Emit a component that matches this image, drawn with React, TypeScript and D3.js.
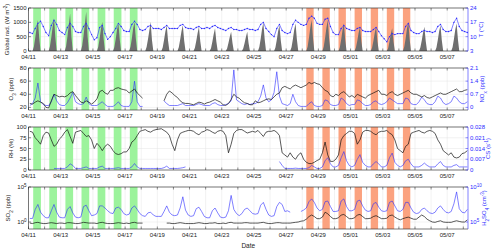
import * as d3 from "d3";

// sampling: every 4 h, starting 04/11 02:00 (UTC)
const start = new Date(Date.UTC(2019, 3, 11));
const end = new Date(Date.UTC(2019, 4, 8, 7));
const sampleHours = [2, 6, 10, 14, 18, 22];
const radHours = [6, 8, 10, 12, 14, 16, 18];

const greenDays = ["04/11", "04/12", "04/13", "04/14", "04/15", "04/16", "04/17"];
const orangeDays = ["04/28", "04/29", "04/30", "05/01", "05/02", "05/03", "05/04"];
const greenHours = [7, 18.5];
const orangeHours = [6, 17];

const N = null;

// global radiation (W m-2), one row per day, at radHours
const radiation = [
  0, 150, 450, 800, 1080, 450, 0,
  0, 170, 480, 850, 1140, 480, 0,
  0, 160, 500, 900, 1310, 500, 0,
  0, 180, 520, 950, 1370, 520, 0,
  0, 150, 430, 780, 1020, 420, 0,
  0, 140, 420, 760, 960, 400, 0,
  0, 150, 440, 790, 1020, 430, 0,
  0, 140, 400, 700, 1020, 380, 0,
  0, 120, 380, 680, 900, 360, 0,
  0, 130, 390, 690, 900, 370, 0,
  0, 110, 350, 620, 850, 340, 0,
  0, 100, 320, 580, 790, 320, 0,
  0, 90, 280, 500, 670, 280, 0,
  0, 90, 270, 490, 670, 270, 0,
  0, 140, 420, 760, 990, 410, 0,
  0, 120, 380, 690, 900, 370, 0,
  0, 130, 410, 740, 960, 400, 0,
  0, 150, 460, 820, 1080, 450, 0,
  0, 150, 450, 810, 1080, 440, 0,
  0, 130, 400, 730, 960, 390, 0,
  0, 120, 360, 640, 850, 350, 0,
  0, 110, 350, 630, 850, 340, 0,
  0, 100, 330, 600, 790, 320, 0,
  0, 150, 430, 780, 1020, 420, 0,
  0, 120, 360, 640, 850, 350, 0,
  0, 120, 380, 690, 900, 370, 0,
  0, 130, 410, 740, 960, 400, 0,
];

// temperature (°C)
const temp = [
  12, 11.5, 14, 16.5, 17.5, 15,
  12, 10.5, 15.5, 18, 16, 13,
  12, 11, 14.5, 16.5, 15, 12.5,
  12, 12, 15, 16.5, 14, 11,
  8.5, 9.5, 14.5, 15.5, 11.5, 8.7,
  10, 12, 14, 16.5, 15, 13,
  12.5, 12.5, 16, 17.5, 16, 13.5,
  13, 13.5, 15, 15.5, 14, 14,
  14, 13.5, 14.5, 15.5, 14, 14,
  14, 14, 15.5, 16, 14.5, 14,
  14, 13.5, 14.5, 15, 14, 14,
  14.5, 14, 15, 15.5, 14.5, 14,
  13.5, 13, 14, 14.5, 13.5, 13.5,
  13, 13, 13.5, 14, 13.5, 13.5,
  13, 13.5, 16, 17, 14, 12.5,
  11, 10, 14, 16, 13, 12,
  11.5, 12, 16, 18, 17, 16,
  15.5, 16, 19, 20, 19, 16.5,
  16, 16, 18.5, 19, 15, 12,
  11, 11, 14, 15.5, 14, 13.5,
  13, 13, 14, 14.5, 13, 12.5,
  12.5, 12.5, 13.5, 14.5, 12.5, 10.5,
  9, 7.5, 10, 11.5, 11, 11.5,
  11.5, 11.5, 15, 16.5, 13, 12,
  11.5, 11.5, 12.5, 13, 12.5, 12.5,
  12, 12.5, 15, 16, 13.5, 12.5,
  12.5, 13, 17, 19, 15, 13,
  12.5, 12,
];

// O3 (ppb)
const o3 = [
  26, 25, 28, 30, 28, 26,
  20, 19, 30, 40, 38, 36,
  37, 36, 38, 42, 44, 38,
  33, 28, 27, 30, 28, 25,
  28, 33, 44, 46, 42, 40,
  46, 46, 49, 50, 48, 47,
  46, 42, 45, 48, 42, 38,
  34, N, N, N, N, N,
  N, N, 30, 40, 45, 42,
  38, 35, 30, 27, 26, 26,
  25, 24, 26, 28, 27, 25,
  27, 28, 30, 32, 30, 28,
  24, 23, 26, 32, 40, 36,
  34, 30, 27, 26, 24, 24,
  30, 27, 28, 30, 32, 33,
  32, 36, 40, 42, 50, 52,
  50, 48, 52, 54, 52, 50,
  52, 54, 58, 56, 58, 56,
  55, 50, 46, 44, 38, 36,
  40, 38, 42, 44, 40, 36,
  38, 35, 40, 38, 36, 34,
  38, 40, 42, 44, 46, 40,
  40, 38, 42, 44, 40, 38,
  40, 42, 44, 46, 42, 40,
  40, 38, 36, 38, 35, 34,
  36, 38, 40, 42, 40, 40,
  42, 44, 46, 48, 44, 44,
  46, 47,
];

// NOx (ppb)
const nox = [
  0.1, 0.2, 0.5, 1.3, 0.3, 0.15,
  0.1, 0.1, 0.3, 0.7, 0.35, 0.15,
  0.1, 0.1, 0.25, 0.5, 0.8, 0.3,
  0.2, 0.15, 0.2, 0.55, 0.2, 0.1,
  0.1, 0.1, 0.2, 0.3, 0.15, 0.05,
  0.05, 0.05, 0.15, 0.3, 0.1, 0.05,
  0.05, 0.05, 0.3, 1.4, 0.3, 0.05,
  0.05, N, N, N, N, N,
  N, N, 0.35, 0.2, 0.1, 0.1,
  0.1, 0.1, 0.15, 0.2, 0.1, 0.1,
  0.1, 0.1, 0.15, 0.2, 0.15, 0.1,
  0.1, 0.1, 0.2, 0.25, 0.15, 0.1,
  0.1, 0.15, 0.2, 0.35, 2.0, 0.4,
  0.3, 0.2, 0.15, 0.2, 0.15, 0.2,
  0.2, 0.3, 0.6, 1.2, 0.5, 0.3,
  0.4, 0.8, 1.9, 0.6, 0.2, 0.15,
  0.1, 0.2, 0.7, 0.3, 0.1, 0.05,
  0.05, 0.05, 0.2, 0.3, 0.1, 0.05,
  0.05, 0.1, 0.4, 0.35, 0.15, 0.1,
  0.1, 0.15, 0.5, 0.4, 0.2, 0.1,
  0.15, 0.15, 0.4, 0.35, 0.2, 0.1,
  0.1, 0.15, 0.3, 0.35, 0.2, 0.15,
  0.2, 0.3, 0.5, 0.4, 0.3, 0.2,
  0.2, 0.2, 0.5, 0.45, 0.2, 0.15,
  0.15, 0.3, 0.55, 0.4, 0.2, 0.15,
  0.15, 0.3, 0.6, 0.5, 0.25, 0.15,
  0.2, 0.3, 0.6, 0.5, 0.3, 0.2,
  0.2, 0.3,
];

// RH (%)
const rh = [
  90, 88, 75, 68, 60, 80,
  88, 86, 70, 55, 60, 72,
  78, 88, 94, 78, 62, 88,
  90, 92, 85, 78, 80, 70,
  50, 62, 55, 45, 55, 60,
  55, 45, 38, 36, 38, 42,
  42, 50, 65, 70, 80, 90,
  92, 94, 90, 88, 92, 94,
  95, 96, 92, 88, 80, 60,
  45, 70, 85, 88, 90, 92,
  92, 90, 85, 82, 88, 90,
  94, 92, 88, 85, 90, 92,
  90, 80, 40, 60, 85, 92,
  94, 94, 90, 86, 88, 90,
  88, 92, 85, 78, 88, 90,
  90, 92, 88, 80, 40, 35,
  30, 40, 30, 25, 35, 40,
  25, 18, 15, 15, 18, 22,
  25, 40, 65, 35, 20, 20,
  25, 35, 70, 80, 85, 90,
  90, 85, 60, 70, 88, 92,
  92, 90, 85, 82, 88, 90,
  90, 92, 86, 82, 70, 50,
  45, 40, 55, 60, 85, 88,
  90, 92, 88, 86, 90, 92,
  90, 85, 70, 60, 45, 40,
  35, 40, 30, 28, 30, 38,
  40, 45,
];

// condensation sink (s-1)
const cs = [
  N, N, N, N, N, N,
  N, N, N, 0.001, 0.001, 0.001,
  0.001, 0.001, 0.002, 0.004, 0.003, 0.001,
  0.001, 0.001, 0.0015, 0.002, 0.001, 0.001,
  0.001, 0.001, 0.002, 0.0025, 0.001, 0.001,
  0.001, 0.001, 0.0012, 0.0015, 0.001, 0.001,
  0.001, 0.001, 0.002, 0.0042, 0.002, 0.001,
  0.001, 0.001, 0.001, 0.001, 0.001, 0.001,
  0.001, 0.001, 0.0015, 0.0025, 0.001, 0.001,
  0.001, 0.001, 0.0012, 0.0015, 0.002, N,
  N, N, N, N, N, N,
  N, N, N, N, N, N,
  N, N, N, N, N, N,
  N, N, N, N, N, N,
  N, N, N, N, N, N,
  N, N, N, 0.0055, 0.003, 0.001,
  0.001, 0.001, 0.001, 0.0012, 0.001, 0.001,
  0.001, 0.001, 0.0015, 0.003, 0.002, 0.001,
  0.001, 0.002, 0.006, 0.008, 0.004, 0.002,
  0.002, 0.003, 0.008, 0.012, 0.006, 0.003,
  0.002, 0.003, 0.007, 0.01, 0.005, 0.003,
  0.002, 0.002, 0.004, 0.0055, 0.004, 0.002,
  0.002, 0.003, 0.008, 0.011, 0.005, 0.003,
  0.002, 0.003, 0.006, 0.007, 0.004, 0.002,
  0.002, 0.002, 0.003, 0.0045, 0.003, 0.002,
  0.002, 0.002, 0.004, 0.0055, 0.003, 0.002,
  0.002, 0.002, 0.003, 0.0035, 0.002, 0.002,
  0.002, 0.002,
];

// SO2 (ppb)
const so2 = [
  0.7, 0.6, 0.8, 0.9, 0.7, 0.6,
  0.6, 0.7, 0.8, 0.7, 0.6, 0.7,
  0.7, 0.6, 0.8, 0.8, 0.7, 0.6,
  0.6, 0.7, 0.9, 0.8, 0.7, 0.7,
  0.7, 0.6, 0.8, 0.9, 0.7, 0.6,
  0.6, 0.6, 0.7, 0.8, 0.7, 0.6,
  0.7, 0.6, 0.8, 0.9, 0.7, 0.7,
  0.7, N, N, N, N, N,
  N, N, N, 0.7, 0.7, 0.6,
  0.6, 0.7, 0.8, 0.7, 0.6, 0.6,
  0.6, 0.6, 0.7, 0.8, 0.7, 0.6,
  0.6, 0.7, 0.7, 0.8, 0.6, 0.6,
  0.7, 0.6, 0.8, 0.9, 0.7, 0.7,
  0.7, 0.7, 0.8, 0.8, 0.7, 0.7,
  0.7, 0.7, 0.8, 0.9, 0.7, 0.6,
  0.6, 0.7, 0.8, 0.8, 0.7, 0.7,
  0.7, 0.7, 0.8, 0.9, 1.0, 1.3,
  1.5, 2.5, 6, 10, 6, 3,
  3, 5, 25, 15, 6, 3,
  3, 4, 10, 12, 6, 3,
  3, 4, 10, 12, 6, 3,
  3, 3.5, 6, 8, 5, 3,
  3, 3.5, 8, 10, 5, 3,
  2, 3, 4, 5, 3.5, 2.5,
  2.5, 5, 10, 6, 2.5, 1.5,
  1, 0.9, 1.2, 1.5, 1, 0.9,
  0.9, 0.9, 1.2, 1.5, 1.2, 1,
  1, 2,
];

// H2SO4 (cm-3)
const h2so4 = [
  3.2e5, 3.2e5, 6.3e6, 3.2e7, 2.5e6, 8e5,
  4e5, 4e5, 4e6, 3.2e7, 2.5e6, 5e5,
  4e5, 4e5, 6.3e6, 1.6e7, 2e6, 5e5,
  4e5, 5e5, 1.6e7, 2.5e7, 4e6, 8e5,
  1e6, 1.6e6, 2e7, 2e7, 1e7, 4e6,
  2e6, 1.6e6, 1e7, 1.3e7, 6.3e6, 1.6e6,
  1e6, 1.3e6, 1e7, 2e7, 6.3e6, 1.6e6,
  8e5, 6.3e5, 2e6, 2.5e6, 1e6, 6.3e5,
  6.3e5, 6.3e5, 3.2e6, 2e7, 2.5e6, 1e6,
  8e5, 1e6, 1e7, 4e8, 5e6, 1e6,
  6.3e5, 8e5, 8e6, 1.3e7, 3.2e6, 6.3e5,
  4e5, 4e5, 4e6, 1e7, 2e6, 5e5,
  4e5, 5e5, 4e6, 6.3e8, 6.3e6, 1.6e6,
  8e5, 1.6e6, 6.3e6, 1e7, 4e6, 1.6e6,
  1.3e6, 1.6e6, 2.5e7, 6.3e7, 6.3e6, 1e6,
  6.3e5, 8e5, 1.6e7, 6.3e7, 3.2e7, 3.2e6,
  4e6, 2.5e6, N, N, N, 3.2e6,
  5e6, 1e7, 8e7, 2e8, 6.3e7, 1e7,
  4e6, 6.3e6, 8e7, 1e8, 1.6e7, 3.2e6,
  3.2e6, 4e6, 1e8, 2e8, 1.6e7, 4e6,
  4e6, 6.3e6, 1e8, 1.3e8, 2e7, 5e6,
  3.2e6, 4e6, 4e7, 6.3e7, 1.3e7, 4e6,
  3.2e6, 4e6, 6.3e7, 1e8, 2e7, 4e6,
  3.2e6, 6.3e6, 6.3e7, 6.3e7, 1e7, 2.5e6,
  1.6e6, 2e6, 6.3e6, 1e7, 4e6, 2e6,
  1.6e6, 2.5e6, 1e7, 2e7, 6.3e6, 2.5e6,
  2e6, 3.2e6, 4e7, 2e9, 8e6, 2.5e6,
  2e6, 6.3e6,
];

const radTicks = [0, 500, 1000, 1500];
const tempTicks = [3, 10, 17, 24];
const o3Ticks = [20, 40, 60, 80];
const noxTicks = [0, 0.7, 1.4, 2.1];
const rhTicks = [0, 25, 50, 75, 100];
const csTicks = [0, 0.007, 0.014, 0.021, 0.028];
const so2Ticks = [1, 1e5];
const h2so4Ticks = [1e5, 1e10];

const BLUE = "#2b2bff";
const FONT = "'Liberation Sans', Arial, sans-serif";
const X0 = 28.5;
const X1 = 468;

const x = d3.scaleUtc().domain([start, end]).range([X0, X1]);
const days = d3.utcDay.range(start, end);
const fmtDay = d3.utcFormat("%m/%d");
const parseDay = d3.utcParse("%Y/%m/%d");

const times = temp.map((_, i) =>
  d3.utcHour.offset(start, Math.floor(i / 6) * 24 + sampleHours[i % 6])
);
const radTimes = radiation.map((_, i) =>
  d3.utcHour.offset(start, Math.floor(i / 7) * 24 + radHours[i % 7])
);

const makeLine = (vals: (number | null)[], y: any) =>
  d3
    .line<number | null>()
    .defined((v) => v != null)
    .x((_, i) => x(times[i]))
    .y((v) => y(v as number))(vals) || "";

// superscript / subscript pieces, shifted with baseline-shift so no reset tspan is needed
const Sup = ({ t }: { t: string }) => (
  <tspan baselineShift="super" fontSize={4.5}>
    {t}
  </tspan>
);
const Sub = ({ t }: { t: string }) => (
  <tspan baselineShift="sub" fontSize={4.5}>
    {t}
  </tspan>
);

const pow10 = (v: number) => (
  <>
    10
    <Sup t={String(Math.round(Math.log10(v)))} />
  </>
);

const Bands = ({ top, bottom }: { top: number; bottom: number }) => (
  <g>
    {greenDays.map((d) => {
      const day = parseDay("2019/" + d) as Date;
      const a = x(d3.utcMinute.offset(day, greenHours[0] * 60));
      const b = x(d3.utcMinute.offset(day, greenHours[1] * 60));
      return <rect key={d} x={a} y={top} width={b - a} height={bottom - top} fill="#9cf39c" />;
    })}
    {orangeDays.map((d) => {
      const day = parseDay("2019/" + d) as Date;
      const a = x(d3.utcMinute.offset(day, orangeHours[0] * 60));
      const b = x(d3.utcMinute.offset(day, orangeHours[1] * 60));
      return <rect key={d} x={a} y={top} width={b - a} height={bottom - top} fill="#fba27f" />;
    })}
  </g>
);

const Panel = (props: any) => {
  const { top, bottom, yL, yR, ticksL, ticksR, fmtL, fmtR, labelL, labelR, lxL, lxR, showDate } = props;
  const mid = (top + bottom) / 2;
  return (
    <g fontFamily={FONT} fontSize={6}>
      {days.map((d, i) => (
        <line key={i} x1={x(d)} x2={x(d)} y1={top} y2={bottom} stroke="#e4e4e4" strokeWidth={0.5} />
      ))}
      {ticksL.map((t: number) => (
        <line key={t} x1={X0} x2={X1} y1={yL(t)} y2={yL(t)} stroke="#e4e4e4" strokeWidth={0.5} />
      ))}
      <Bands top={top} bottom={bottom} />
      {props.children}
      {/* frame */}
      <line x1={X0} x2={X1} y1={top} y2={top} stroke="#222" strokeWidth={0.6} />
      <line x1={X0} x2={X1} y1={bottom} y2={bottom} stroke="#222" strokeWidth={0.6} />
      <line x1={X0} x2={X0} y1={top} y2={bottom} stroke="#222" strokeWidth={0.6} />
      <line x1={X1} x2={X1} y1={top} y2={bottom} stroke={BLUE} strokeWidth={0.6} />
      {days.map((d, i) => (
        <g key={i}>
          <line x1={x(d)} x2={x(d)} y1={bottom} y2={bottom - 2.5} stroke="#222" strokeWidth={0.5} />
          <line x1={x(d)} x2={x(d)} y1={top} y2={top + 2.5} stroke="#222" strokeWidth={0.5} />
          {i % 2 === 0 && (
            <text x={x(d)} y={bottom + 8} textAnchor="middle" fill="#222">
              {fmtDay(d)}
            </text>
          )}
        </g>
      ))}
      {ticksL.map((t: number) => (
        <g key={t}>
          <line x1={X0} x2={X0 + 2.5} y1={yL(t)} y2={yL(t)} stroke="#222" strokeWidth={0.5} />
          <text x={X0 - 2} y={yL(t)} dy="0.35em" textAnchor="end" fill="#222">
            {fmtL(t)}
          </text>
        </g>
      ))}
      {ticksR.map((t: number) => (
        <g key={t}>
          <line x1={X1} x2={X1 - 2.5} y1={yR(t)} y2={yR(t)} stroke={BLUE} strokeWidth={0.5} />
          <text x={X1 + 2} y={yR(t)} dy="0.35em" textAnchor="start" fill={BLUE}>
            {fmtR(t)}
          </text>
        </g>
      ))}
      <text transform={`translate(${lxL},${mid}) rotate(-90)`} textAnchor="middle" fill="#222">
        {labelL}
      </text>
      <text transform={`translate(${lxR},${mid}) rotate(-90)`} textAnchor="middle" fill={BLUE}>
        {labelR}
      </text>
      {showDate && (
        <text x={(X0 + X1) / 2} y={248} textAnchor="middle" fill="#222" fontSize={6.5}>
          Date
        </text>
      )}
    </g>
  );
};

export default function App() {
  // panel 1
  const p1 = { top: 8, bottom: 51 };
  const yRad = d3.scaleLinear().domain([0, 1500]).range([p1.bottom, p1.top]);
  const yT = d3.scaleLinear().domain([3, 24]).range([p1.bottom, p1.top]);
  const radArea =
    d3
      .area<number>()
      .x((_, i) => x(radTimes[i]))
      .y0(yRad(0))
      .y1((v) => yRad(v))(radiation) || "";

  // panel 2
  const p2 = { top: 68, bottom: 110 };
  const yO3 = d3.scaleLinear().domain([16, 80]).range([p2.bottom, p2.top]);
  const yNox = d3.scaleLinear().domain([-0.14, 2.1]).range([p2.bottom, p2.top]);

  // panel 3
  const p3 = { top: 127, bottom: 170 };
  const yRh = d3.scaleLinear().domain([0, 100]).range([p3.bottom, p3.top]);
  const yCs = d3.scaleLinear().domain([0, 0.028]).range([p3.bottom, p3.top]);

  // panel 4
  const p4 = { top: 187, bottom: 229 };
  const ySo2 = d3.scaleLog().domain([0.1, 1e5]).range([p4.bottom, p4.top]);
  const yH2 = d3.scaleLog().domain([1e4, 1e10]).range([p4.bottom, p4.top]);

  const id = (v: number) => String(v);

  return (
    <svg width={500} height={250} style={{ position: "absolute", left: 0, top: 0, background: "#fff" }}>
      <Panel
        {...p1}
        yL={yRad}
        yR={yT}
        ticksL={radTicks}
        ticksR={tempTicks}
        fmtL={id}
        fmtR={id}
        lxL={9}
        lxR={483}
        labelL={<>Global rad. (W m<Sup t="-2" />)</>}
        labelR={<>T (°C)</>}
      >
        <path d={radArea} fill="#6f6f6f" />
        <path d={makeLine(temp, yT)} fill="none" stroke={BLUE} strokeWidth={0.6} />
        {temp.map((v, i) => (
          <circle key={i} cx={x(times[i])} cy={yT(v)} r={0.7} fill={BLUE} />
        ))}
      </Panel>

      <Panel
        {...p2}
        yL={yO3}
        yR={yNox}
        ticksL={o3Ticks}
        ticksR={noxTicks}
        fmtL={id}
        fmtR={id}
        lxL={12.5}
        lxR={484}
        labelL={<>O<Sub t="3" /> (ppb)</>}
        labelR={<>NO<Sub t="x" /> (ppb)</>}
      >
        <path d={makeLine(nox, yNox)} fill="none" stroke={BLUE} strokeWidth={0.6} />
        <path d={makeLine(o3, yO3)} fill="none" stroke="#111" strokeWidth={0.7} />
      </Panel>

      <Panel
        {...p3}
        yL={yRh}
        yR={yCs}
        ticksL={rhTicks}
        ticksR={csTicks}
        fmtL={id}
        fmtR={id}
        lxL={12.5}
        lxR={490}
        labelL={<>RH (%)</>}
        labelR={<>CS (s<Sup t="-1" />)</>}
      >
        <path d={makeLine(cs, yCs)} fill="none" stroke={BLUE} strokeWidth={0.6} />
        <path d={makeLine(rh, yRh)} fill="none" stroke="#111" strokeWidth={0.7} />
      </Panel>

      <Panel
        {...p4}
        yL={ySo2}
        yR={yH2}
        ticksL={so2Ticks}
        ticksR={h2so4Ticks}
        fmtL={pow10}
        fmtR={pow10}
        lxL={9.5}
        lxR={486}
        showDate
        labelL={<>SO<Sub t="2" /> (ppb)</>}
        labelR={<>H<Sub t="2" />SO<Sub t="4" /> (cm<Sup t="-3" />)</>}
      >
        <path d={makeLine(h2so4, yH2)} fill="none" stroke={BLUE} strokeWidth={0.6} />
        <path d={makeLine(so2, ySo2)} fill="none" stroke="#111" strokeWidth={0.7} />
      </Panel>
    </svg>
  );
}
